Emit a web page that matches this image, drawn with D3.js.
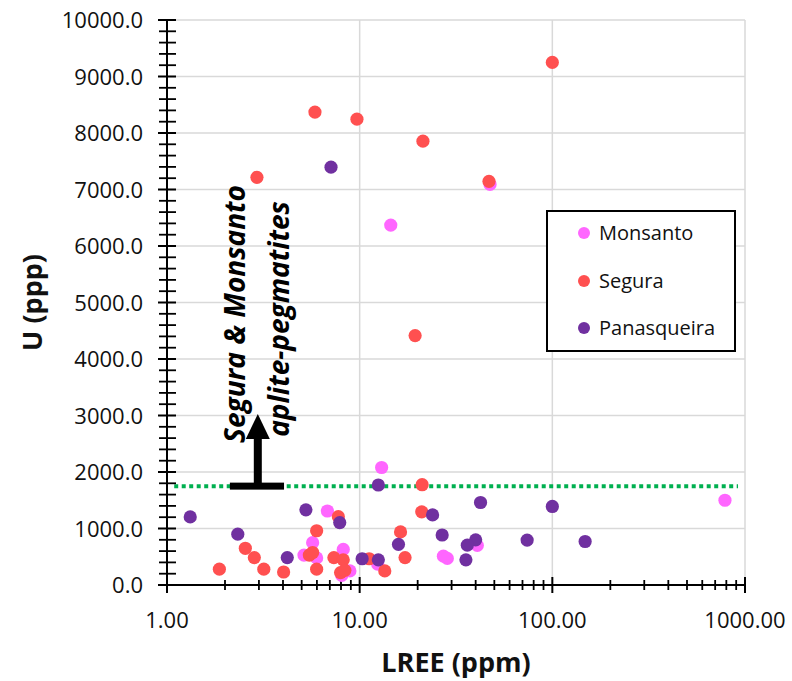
<!DOCTYPE html>
<html>
<head>
<meta charset="utf-8">
<script src="https://cdn.jsdelivr.net/npm/d3@7/dist/d3.min.js"></script>
<style>
html,body{margin:0;padding:0;background:#fff;}
svg{display:block;}
</style>
</head>
<body>
<svg id="chart" width="792" height="681"></svg>
<script>
// ---- data ----
const seriesNames = ["Monsanto", "Segura", "Panasqueira"];
const seriesColors = ["#FF66FF", "#FF5050", "#7030A0"];

const monsantoX = [47.5, 14.5, 13.0, 6.8, 5.7, 5.14, 5.98, 8.22, 8.9, 8.07, 12.4, 27.2, 28.5, 40.8, 787];
const monsantoY = [7090, 6370, 2080, 1310, 750, 530, 480, 630, 250, 170, 370, 510, 470, 700, 1500];

const seguraX = [100, 5.86, 9.68, 2.93, 21.3, 46.9, 19.4, 21.1, 21.0, 16.3, 17.2, 11.2, 13.5, 7.75, 5.98, 5.48, 5.7, 5.98, 7.35, 8.22, 7.96, 8.38, 2.55, 2.84, 1.87, 3.18, 4.03];
const seguraY = [9250, 8370, 8245, 7215, 7855, 7145, 4415, 1775, 1295, 940, 485, 465, 250, 1210, 960, 530, 575, 280, 485, 445, 220, 260, 650, 485, 280, 280, 230];

const panasX = [7.1, 1.32, 2.33, 4.21, 5.26, 7.88, 10.3, 12.5, 12.5, 23.9, 42.4, 15.9, 26.8, 40, 36.2, 35.6, 74, 100, 148];
const panasY = [7395, 1205, 900, 485, 1330, 1105, 465, 1770, 445, 1240, 1460, 720, 885, 800, 705, 445, 795, 1390, 770];

const xMajorTicks = [1, 10, 100, 1000];
const yMajorTicks = [0, 1000, 2000, 3000, 4000, 5000, 6000, 7000, 8000, 9000, 10000];
const threshold = 1750;

const xTitle = "LREE (ppm)";
const yTitle = "U (ppp)";
const noteLines = ["Segura & Monsanto", "aplite-pegmatites"];

(function draw() {
const svg = d3.select("#chart");
const pL = 167, pR = 745, pT = 20, pB = 585;

const x = d3.scaleLog().domain([1, 1000]).range([pL, pR]);
const y = d3.scaleLinear().domain([0, 10000]).range([pB, pT]);

const font = "'Open Sans', sans-serif";

// gridlines
const grid = svg.append("g");
grid.selectAll("line.h").data(yMajorTicks.filter(d => d > 0)).join("line")
  .attr("x1", pL).attr("x2", pR)
  .attr("y1", d => y(d)).attr("y2", d => y(d))
  .attr("stroke", "#d9d9d9").attr("stroke-width", 1.5);
grid.selectAll("line.v").data(xMajorTicks.filter(d => d > 1)).join("line")
  .attr("x1", d => x(d)).attr("x2", d => x(d))
  .attr("y1", pT).attr("y2", pB)
  .attr("stroke", "#d9d9d9").attr("stroke-width", 1.5);

// threshold dotted line
svg.append("line")
  .attr("x1", x(1.09)).attr("x2", x(920))
  .attr("y1", y(threshold)).attr("y2", y(threshold))
  .attr("stroke", "#00B050").attr("stroke-width", 4)
  .attr("stroke-dasharray", "4,3.5");

// x axis (log) with crossing ticks
const xMinor = [];
for (let dec = 1; dec < 1000; dec *= 10) for (let k = 2; k <= 9; k++) xMinor.push(dec * k);

const xAxisG = svg.append("g");
xAxisG.selectAll("line.mn").data(xMinor).join("line")
  .attr("x1", d => x(d)).attr("x2", d => x(d))
  .attr("y1", pB - 5).attr("y2", pB + 5)
  .attr("stroke", "#000").attr("stroke-width", 1.8);
xAxisG.selectAll("line.mj").data(xMajorTicks).join("line")
  .attr("x1", d => x(d)).attr("x2", d => x(d))
  .attr("y1", pB - 8).attr("y2", pB + 8)
  .attr("stroke", "#000").attr("stroke-width", 2);
xAxisG.selectAll("text").data(xMajorTicks).join("text")
  .attr("x", d => x(d)).attr("y", pB + 43)
  .attr("text-anchor", "middle")
  .attr("font-family", font).attr("font-size", 22).attr("fill", "#111")
  .text(d => d3.format(".2f")(d));

// y axis with crossing ticks
const yMinor = d3.range(0, 10001, 200).filter(d => d % 1000 !== 0);
const yAxisG = svg.append("g");
yAxisG.selectAll("line.mn").data(yMinor).join("line")
  .attr("x1", pL - 8).attr("x2", pL + 9)
  .attr("y1", d => y(d)).attr("y2", d => y(d))
  .attr("stroke", "#000").attr("stroke-width", 1.8);
yAxisG.selectAll("line.mj").data(yMajorTicks).join("line")
  .attr("x1", pL - 9).attr("x2", pL + 9)
  .attr("y1", d => y(d)).attr("y2", d => y(d))
  .attr("stroke", "#000").attr("stroke-width", 2);
yAxisG.selectAll("text").data(yMajorTicks).join("text")
  .attr("x", 143).attr("y", d => y(d) + 8)
  .attr("text-anchor", "end")
  .attr("font-family", font).attr("font-size", 22).attr("fill", "#111")
  .text(d => d3.format(".1f")(d));

// axis lines
svg.append("line").attr("x1", pL).attr("x2", pR).attr("y1", pB).attr("y2", pB)
  .attr("stroke", "#000").attr("stroke-width", 2);
svg.append("line").attr("x1", pL).attr("x2", pL).attr("y1", pT).attr("y2", pB)
  .attr("stroke", "#000").attr("stroke-width", 2);

// axis titles
svg.append("text").attr("x", (pL + pR) / 2).attr("y", 672)
  .attr("text-anchor", "middle").attr("font-family", font).attr("font-weight", "bold")
  .attr("font-size", 27).attr("fill", "#111").text(xTitle);
svg.append("text").attr("transform", `translate(42,${(pT + pB) / 2}) rotate(-90)`)
  .attr("text-anchor", "middle").attr("font-family", font).attr("font-weight", "bold")
  .attr("font-size", 27).attr("fill", "#111").text(yTitle);

// points
const series = [
  {xs: monsantoX, ys: monsantoY},
  {xs: seguraX, ys: seguraY},
  {xs: panasX, ys: panasY}
];
series.forEach((s, i) => {
  const pts = s.xs.map((v, j) => ({x: v, y: s.ys[j]}));
  svg.append("g").selectAll("circle").data(pts).join("circle")
    .attr("cx", d => x(d.x)).attr("cy", d => y(d.y)).attr("r", 6.6)
    .attr("fill", seriesColors[i]);
});

// annotation arrow
const ay = y(threshold);
const ax = x(2.96);
svg.append("rect").attr("x", x(2.12)).attr("y", ay - 3.5).attr("width", x(4.05) - x(2.12)).attr("height", 7).attr("fill", "#000");
svg.append("rect").attr("x", ax - 4).attr("y", 436).attr("width", 8).attr("height", ay - 436).attr("fill", "#000");
svg.append("path").attr("d", `M${ax - 12},439 L${ax + 12},439 L${ax},414 Z`).attr("fill", "#000");

// annotation text
const noteG = svg.append("g");
[[245, 314], [289, 319]].forEach((p, i) => {
  noteG.append("text").attr("transform", `translate(${p[0]},${p[1]}) rotate(-90)`)
    .attr("text-anchor", "middle").attr("font-family", font).attr("font-weight", "bold")
    .attr("font-style", "italic").attr("font-size", 28).attr("fill", "#000")
    .text(noteLines[i]);
});

// legend
const lg = svg.append("g");
lg.append("rect").attr("x", 547).attr("y", 211).attr("width", 188).attr("height", 140)
  .attr("fill", "#fff").attr("stroke", "#000").attr("stroke-width", 2);
const legY = [233, 281, 328];
seriesNames.forEach((n, i) => {
  lg.append("circle").attr("cx", 584).attr("cy", legY[i]).attr("r", 6).attr("fill", seriesColors[i]);
  lg.append("text").attr("x", 599).attr("y", legY[i] + 7)
    .attr("font-family", font).attr("font-size", 20).attr("fill", "#111").text(n);
});
})();
</script>
</body>
</html>
